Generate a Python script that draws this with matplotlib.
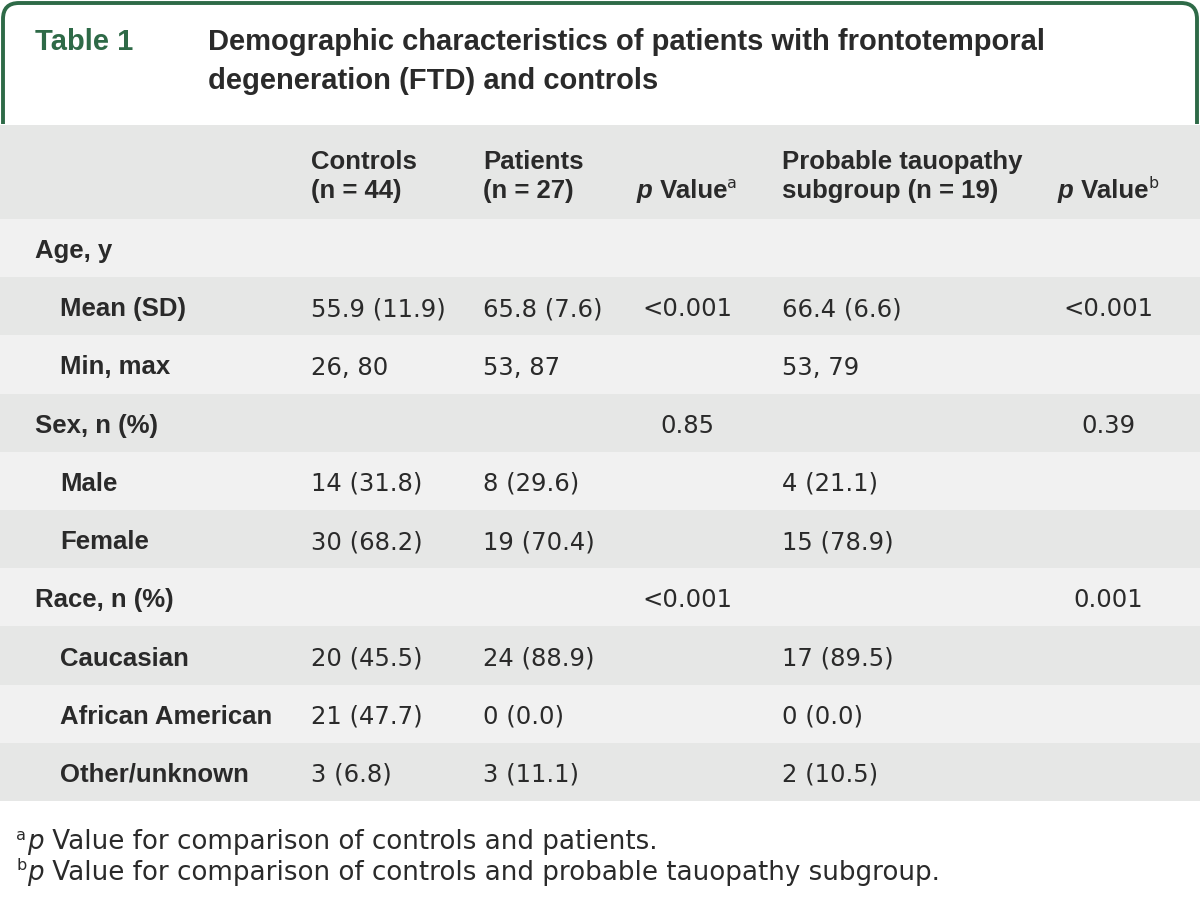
import matplotlib
matplotlib.use('Agg')
import matplotlib.pyplot as plt
import numpy as num
from matplotlib.path import Path
from matplotlib.patches import PathPatch, Rectangle

plt.rcParams['font.family'] = ['Liberation Sans', 'DejaVu Sans']

# table data
title_tag = 'Table 1'
title_lines = ['Demographic characteristics of patients with frontotemporal',
               'degeneration (FTD) and controls']
col_heads = [['Controls', '(n = 44)'], ['Patients', '(n = 27)'], ['', 'p|Value|a'],
             ['Probable tauopathy', 'subgroup (n = 19)'], ['', 'p|Value|b']]
row_labels = ['Age, y', 'Mean (SD)', 'Min, max', 'Sex, n (%)', 'Male', 'Female',
              'Race, n (%)', 'Caucasian', 'African American', 'Other/unknown']
indent = [0, 1, 1, 0, 1, 1, 0, 1, 1, 1]
controls = ['', '55.9 (11.9)', '26, 80', '', '14 (31.8)', '30 (68.2)', '', '20 (45.5)', '21 (47.7)', '3 (6.8)']
patients = ['', '65.8 (7.6)', '53, 87', '', '8 (29.6)', '19 (70.4)', '', '24 (88.9)', '0 (0.0)', '3 (11.1)']
p_a = ['', '<0.001', '', '0.85', '', '', '<0.001', '', '', '']
tauopathy = ['', '66.4 (6.6)', '53, 79', '', '4 (21.1)', '15 (78.9)', '', '17 (89.5)', '0 (0.0)', '2 (10.5)']
p_b = ['', '<0.001', '', '0.39', '', '', '0.001', '', '', '']
footnotes = [['a', 'p', ' Value for comparison of controls and patients.'],
             ['b', 'p', ' Value for comparison of controls and probable tauopathy subgroup.']]

green = '#2e6a47'
ink = '#2a2a2a'
light = '#f1f1f1'
dark = '#e6e7e6'
fs = 17.5      # regular values
fsb = 18.5     # bold labels / heads
fst = 21       # title
reg = ['DejaVu Sans']
bold = ['Liberation Sans', 'DejaVu Sans']

fig = plt.figure(figsize=(12, 8.98), dpi=100)
ax = fig.add_axes([0, 0, 1, 1])
ax.set_xlim(0, 1200)
ax.set_ylim(898, 0)
ax.axis('off')
rend = fig.canvas.get_renderer()

# green frame with rounded top corners
r = 16
verts = [(3, 124), (3, 3 + r), (3, 3), (3 + r, 3), (1197 - r, 3), (1197, 3), (1197, 3 + r), (1197, 124)]
codes = [Path.MOVETO, Path.LINETO, Path.CURVE3, Path.CURVE3, Path.LINETO, Path.CURVE3, Path.CURVE3, Path.LINETO]
ax.add_patch(PathPatch(Path(verts, codes), fill=False, ec=green, lw=2.8))

ax.text(35, 42, title_tag, color=green, fontsize=fst, fontweight='bold', family=bold, va='center')
for i, line in enumerate(title_lines):
    ax.text(208, 42 + 39 * i, line, color=ink, fontsize=fst, fontweight='bold', family=bold, va='center')

# backgrounds
ax.add_patch(Rectangle((0, 125), 1200, 94, color=dark, lw=0))
row_top = 219
row_h = 58.2
for i in range(len(row_labels)):
    c = light if i % 2 == 0 else dark
    ax.add_patch(Rectangle((0, row_top + i * row_h), 1200, row_h, color=c, lw=0))


def width(s, **kw):
    t = ax.text(0, 0, s, **kw)
    w = t.get_window_extent(rend).width
    t.remove()
    return w


def pvalue(xc, y, sup):
    parts = [('p', dict(fontsize=fsb, fontweight='bold', fontstyle='italic', family=bold), 0),
             (' Value', dict(fontsize=fsb, fontweight='bold', family=bold), 0),
             (sup, dict(fontsize=fsb * 0.62, family=reg), -8)]
    tot = sum(width(p[0], **p[1]) for p in parts)
    x = xc - tot / 2
    for s, kw, dy in parts:
        ax.text(x, y + dy, s, color=ink, va='center', **kw)
        x += width(s, **kw)


col_x = [311, 483, 687, 782, 1108]
for j, head in enumerate(col_heads):
    if '|' in head[1]:
        bits = head[1].split('|')
        pvalue(col_x[j], 191, bits[2])
    else:
        ax.text(col_x[j], 162, head[0], color=ink, fontsize=fsb, fontweight='bold', family=bold, va='center')
        ax.text(col_x[j], 191, head[1], color=ink, fontsize=fsb, fontweight='bold', family=bold, va='center')

for i, lab in enumerate(row_labels):
    yc = row_top + i * row_h + row_h / 2 + 3
    ax.text(35 + 25 * indent[i], yc, lab, color=ink, fontsize=fsb, fontweight='bold', family=bold, va='center')
    ax.text(col_x[0], yc, controls[i], color=ink, fontsize=fs, family=reg, va='center')
    ax.text(col_x[1], yc, patients[i], color=ink, fontsize=fs, family=reg, va='center')
    ax.text(col_x[2], yc, p_a[i], color=ink, fontsize=fs, family=reg, va='center', ha='center')
    ax.text(col_x[3], yc, tauopathy[i], color=ink, fontsize=fs, family=reg, va='center')
    ax.text(col_x[4], yc, p_b[i], color=ink, fontsize=fs, family=reg, va='center', ha='center')

fsf = 18.8
for k, fn in enumerate(footnotes):
    y = 842 + 31 * k
    ax.text(16, y - 7, fn[0], color=ink, fontsize=fsf * 0.62, family=reg, va='center')
    ax.text(27, y, fn[1], color=ink, fontsize=fsf, fontstyle='italic', family=reg, va='center')
    ax.text(27 + width(fn[1], fontsize=fsf, fontstyle='italic', family=reg), y, fn[2],
            color=ink, fontsize=fsf, family=reg, va='center')

fig.savefig('out.png', dpi=100)
